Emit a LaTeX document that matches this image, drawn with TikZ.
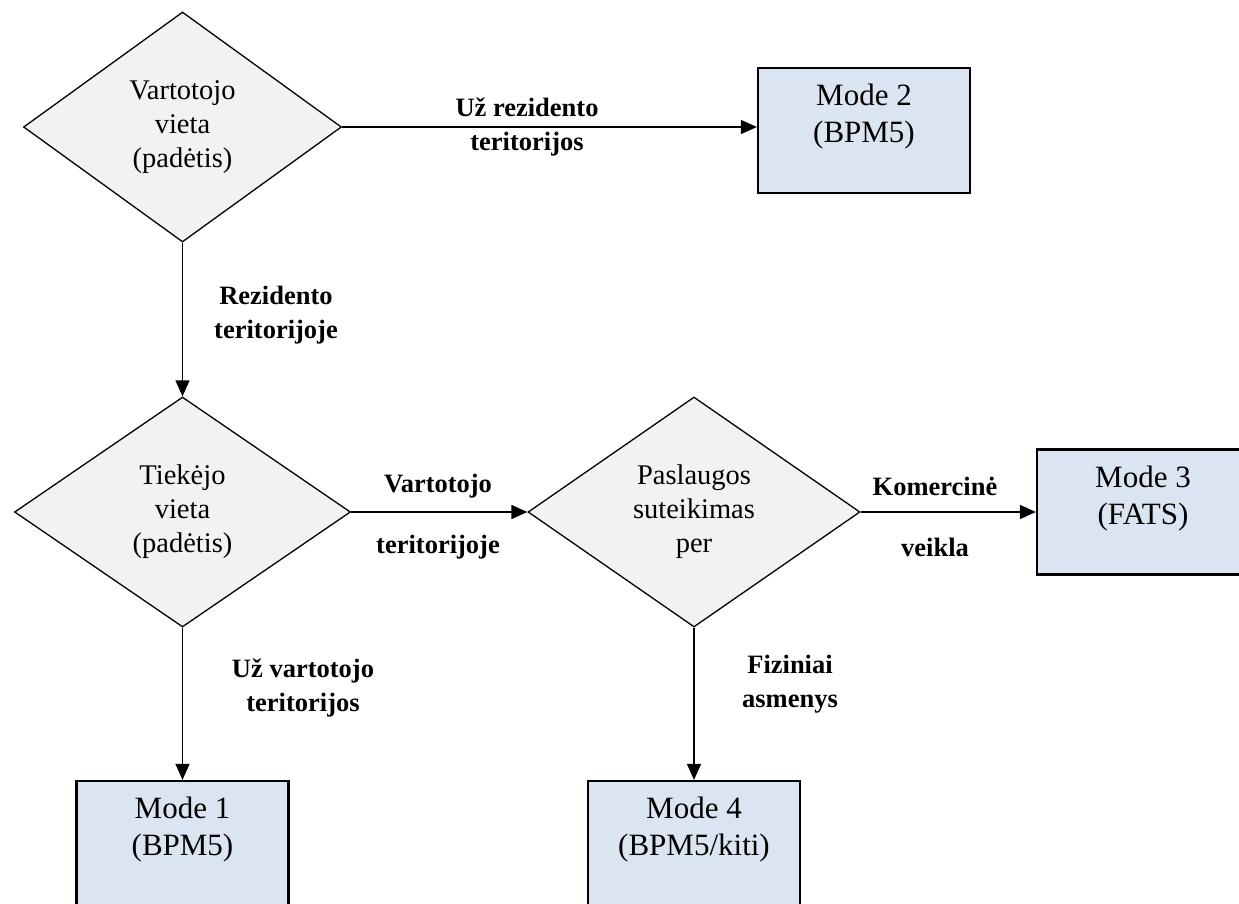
\documentclass[tikz,border=0pt]{standalone}
\usepackage{fontspec}
\setmainfont{Liberation Serif}
\usetikzlibrary{shapes.geometric,arrows.meta}
\definecolor{dfill}{HTML}{F2F2F2}
\definecolor{bfill}{HTML}{DBE5F1}
\begin{document}
\begin{tikzpicture}[x=1pt,y=-1pt,
  dec/.style={diamond, draw=black, line width=1.3pt, fill=dfill, inner sep=0pt,
    minimum height=230pt, align=center, font=\fontsize{28.5}{34}\selectfont},
  modebox/.style={rectangle, draw=black, line width=2.2pt, fill=bfill,
    minimum width=212pt, minimum height=125pt},
  modetext/.style={align=center, font=\fontsize{31}{37}\selectfont, inner sep=0pt},
  lbl/.style={align=center, font=\fontsize{26.5}{34}\selectfont\bfseries, inner sep=0pt},
  lblwide/.style={align=center, font=\fontsize{26.5}{61}\selectfont\bfseries, inner sep=0pt},
  arr/.style={-{Triangle[length=16pt,width=14pt]}, line width=1.3pt}]
\useasboundingbox (0,0) rectangle (1239,903);
\clip (0,0) rectangle (1239,903);
\fill[white] (0,0) rectangle (1239,903);

% decisions
\node[dec, minimum width=318pt] (d1) at (182.5,127) {Vartotojo\\vieta\\(padėtis)};
\node[dec, minimum width=336pt] (d2) at (182.5,512) {Tiekėjo\\vieta\\(padėtis)};
\node[dec, minimum width=332pt] (d3) at (694,512) {Paslaugos\\suteikimas\\per};

% mode boxes
\node[modebox] (m2) at (864,130.5) {};
\node[modebox] (m3) at (1143,512) {};
\node[modebox] (m1) at (182.5,843.5) {};
\node[modebox] (m4) at (694,843.5) {};

\node[modetext] (m2t) at ([yshift=-50pt]m2.north) {Mode 2\\(BPM5)};
\node[modetext] (m3t) at ([yshift=-50pt]m3.north) {Mode 3\\(FATS)};
\node[modetext] (m1t) at ([yshift=-50pt]m1.north) {Mode 1\\(BPM5)};
\node[modetext] (m4t) at ([yshift=-50pt]m4.north) {Mode 4\\(BPM5/kiti)};

% connectors
\draw[arr] (d1.east) -- (d1.east -| m2.west);
\draw[arr] (d1.south) -- (d2.north);
\draw[arr] (d2.east) -- (d3.west);
\draw[arr] (d3.east) -- (m3.west);
\draw[arr] (d2.south) -- (m1.north);
\draw[arr] (d3.south) -- (m4.north);

% labels
\node[lbl] (l1) at (527,127) {Už rezidento\\teritorijos};
\node[lbl] (l2) at (276,315) {Rezidento\\teritorijoje};
\node[lbl] (l3) at (303,688) {Už vartotojo\\teritorijos};
\node[lbl] (l4) at (790,684) {Fiziniai\\asmenys};
\node[lblwide] (l5) at (438,517) {Vartotojo\\teritorijoje};
\node[lblwide] (l6) at (935,517) {Komercinė\\veikla};
\end{tikzpicture}
\end{document}
